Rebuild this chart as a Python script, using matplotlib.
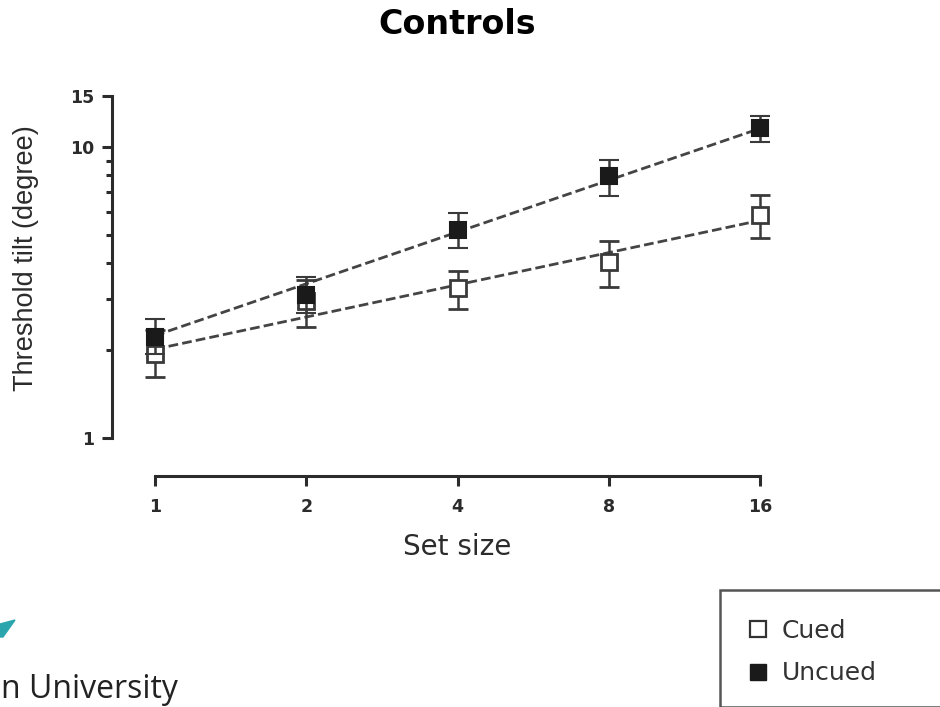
import numpy as np
import matplotlib
matplotlib.use("Agg")
import matplotlib.pyplot as plt
from matplotlib.lines import Line2D
from matplotlib.patches import Rectangle, Polygon

plt.rcParams['font.family'] = ['DejaVu Sans']

# data
set_size = [1, 2, 4, 8, 16]
cued_mean = [1.95, 2.95, 3.27, 4.04, 5.84]
cued_lo = [1.62, 2.41, 2.77, 3.31, 4.88]
cued_hi = [2.35, 3.50, 3.76, 4.75, 6.84]
uncued_mean = [2.22, 3.10, 5.19, 7.95, 11.6]
uncued_lo = [1.95, 2.69, 4.49, 6.79, 10.43]
uncued_hi = [2.56, 3.58, 5.92, 9.02, 12.78]

# straight fit lines (log-log) drawn between their end values
fit_x = [1, 16]
cued_fit = [2.02, 5.6]
uncued_fit = [2.25, 11.6]

W, H = 940, 707
fig = plt.figure(figsize=(9.4, 7.07), dpi=100)
ax = fig.add_axes([155 / W, 1 - 438 / H, (760 - 155) / W, (438 - 96) / H])

ax.set_xscale('log', base=2)
ax.set_yscale('log')
ax.set_xlim(1, 16)
ax.set_ylim(1, 15)

dark = '#2b2b2b'

ax.plot(fit_x, cued_fit, ls=(0, (3.5, 1.5)), color='#444444', lw=2, zorder=2, clip_on=False)
ax.plot(fit_x, uncued_fit, ls=(0, (3.5, 1.5)), color='#444444', lw=2, zorder=2, clip_on=False)

def err(m, lo, hi):
    m = np.array(m); return [m - np.array(lo), np.array(hi) - m]

e1 = ax.errorbar(set_size, cued_mean, yerr=err(cued_mean, cued_lo, cued_hi), fmt='s', ms=12,
                 mfc='white', mec='#3a3a3a', mew=2, ecolor='#3a3a3a', elinewidth=1.8,
                 capsize=7, capthick=1.8, zorder=3)
e2 = ax.errorbar(set_size, uncued_mean, yerr=err(uncued_mean, uncued_lo, uncued_hi), fmt='s', ms=12,
                 mfc='#1a1a1a', mec='#1a1a1a', mew=1.5, ecolor='#3a3a3a', elinewidth=1.8,
                 capsize=7, capthick=1.8, zorder=4)
for e in (e1, e2):
    for art in e.lines[0:1] + tuple(e.lines[1]) + tuple(e.lines[2]):
        art.set_clip_on(False)

for s in ('top', 'right'):
    ax.spines[s].set_visible(False)
ax.spines['left'].set_position(('outward', (155 - 112) * 0.72))
ax.spines['bottom'].set_position(('outward', (476 - 438) * 0.72))
for s in ('left', 'bottom'):
    ax.spines[s].set_linewidth(2.2)
    ax.spines[s].set_color(dark)

ax.set_xticks(set_size)
ax.set_xticklabels(['1', '2', '4', '8', '16'])
ax.xaxis.set_minor_locator(matplotlib.ticker.NullLocator())
ax.set_yticks([1, 10, 15])
ax.set_yticklabels(['1', '10', '15'])
ax.set_yticks([2, 3, 4, 5, 6, 7, 8, 9], minor=True)
ax.yaxis.set_minor_formatter(matplotlib.ticker.NullFormatter())
ax.tick_params(which='major', length=7, width=2.2, color=dark, labelsize=12.5)
ax.tick_params(axis='x', which='major', pad=9)
ax.tick_params(axis='y', which='major', pad=6)
ax.tick_params(which='minor', length=4.5, width=2.2, color=dark)
for lab in ax.get_xticklabels() + ax.get_yticklabels():
    lab.set_fontweight('bold')
    lab.set_color(dark)

fig.text(457 / W, 1 - 547 / H, 'Set size', ha='center', va='center', fontsize=20, color=dark)
fig.text(26 / W, 1 - 258 / H, 'Threshold tilt (degree)', ha='center', va='center', rotation=90,
         fontsize=19.5, color=dark, family=['Liberation Sans', 'DejaVu Sans'])

fig.text(457 / W, 1 - 25 / H, 'Controls', ha='center', va='center', fontsize=24,
         fontweight='bold', color='black')

# legend box (cut by the slide edge)
fig.patches.append(Rectangle((720 / W, 0), 0.5, 1 - 590 / H, transform=fig.transFigure,
                             fill=False, ec='#555555', lw=1.8))
handles = [Line2D([], [], ls='none', marker='s', ms=12, mfc='white', mec='#333333', mew=1.6),
           Line2D([], [], ls='none', marker='s', ms=12, mfc='#1a1a1a', mec='#1a1a1a')]
fig.legend(handles, ['Cued', 'Uncued'], loc='upper left', bbox_to_anchor=(733 / W, 1 - 606 / H),
           frameon=False, fontsize=18, handletextpad=0.45, labelspacing=0.75,
           handlelength=1.0, borderpad=0, labelcolor='#333333')

# slide logo fragment
fig.patches.append(Polygon([(0, 1 - 624 / H), (15 / W, 1 - 620 / H), (3 / W, 1 - 637 / H), (0, 1 - 637 / H)],
                           closed=True, transform=fig.transFigure, color='#2aa5ae'))
fig.text(1 / W, 1 - 698 / H, 'n University', ha='left', va='baseline', fontsize=23,
         family=['Open Sans', 'DejaVu Sans'], color='#222222')

fig.savefig('out.png', dpi=100)
